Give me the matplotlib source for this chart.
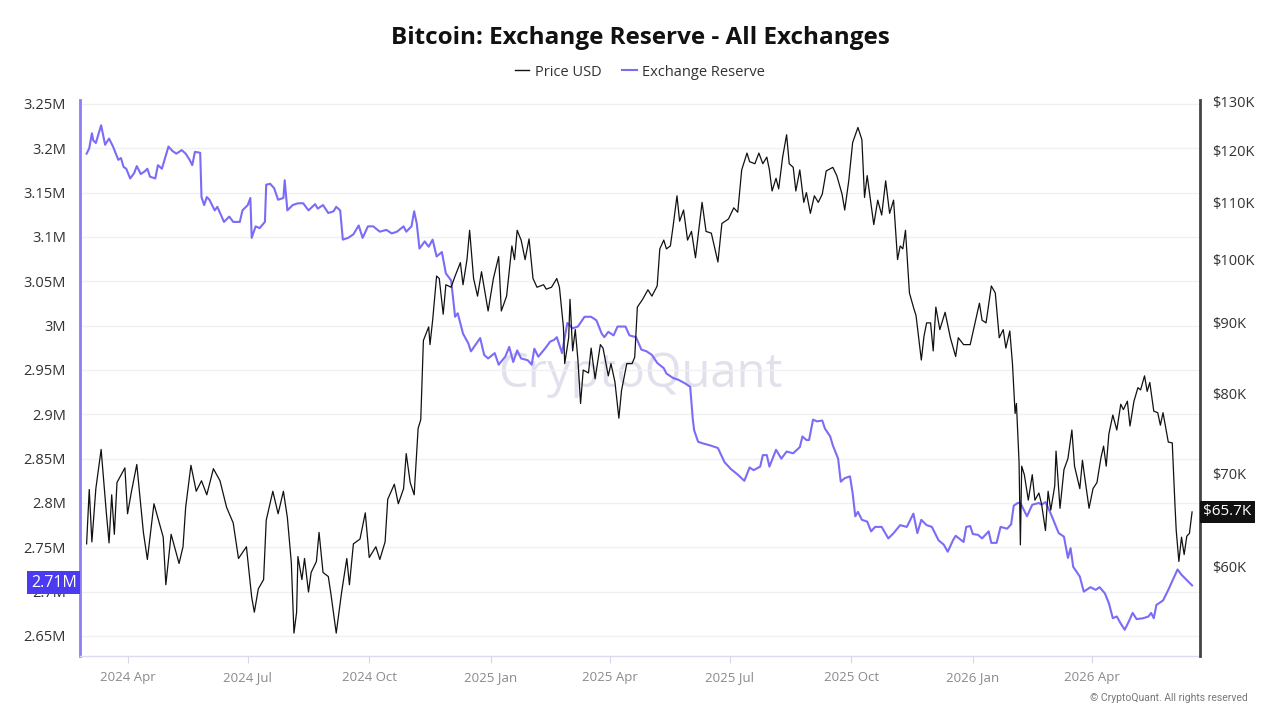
import matplotlib
matplotlib.use("Agg")
import matplotlib.pyplot as plt
import matplotlib.dates as mdates
import matplotlib.transforms as mtransforms
from matplotlib.ticker import FixedLocator, FuncFormatter, NullLocator
from matplotlib.lines import Line2D
import pandas as pd

plt.rcParams['font.family'] = ['Open Sans', 'DejaVu Sans']

START = "2024-03-01"

# Price USD (thousands of USD), sampled by day offset from START
price_days = [0, 2, 4, 7, 11, 15, 17, 19, 21, 23, 29, 31, 34, 38, 43, 46, 51, 58, 60, 64,
              70, 73, 75, 79, 83, 87, 91, 96, 101, 106, 111, 115, 121, 125, 127, 130, 134, 136, 141, 145,
              149, 152, 155, 157, 159, 160, 163, 165, 168, 170, 174, 176, 179, 183, 185, 189, 193, 197, 199, 202,
              207, 211, 214, 219, 222, 226, 228, 233, 236, 240, 242, 245, 248, 251, 253, 255, 259, 260, 262, 265,
              267, 270, 272, 276, 279, 283, 285, 288, 290, 293, 296, 299, 304, 308, 312, 314, 318, 322, 324, 326,
              329, 332, 335, 338, 341, 346, 348, 352, 356, 358, 361, 362, 365, 366, 368, 370, 372, 374, 376, 380,
              382, 385, 389, 391, 395, 397, 400, 402, 403, 405, 409, 413, 415, 417, 421, 425, 428, 432, 434, 437,
              439, 442, 444, 447, 449, 452, 455, 458, 461, 466, 469, 473, 478, 481, 486, 490, 493, 496, 500, 502,
              506, 509, 512, 515, 517, 519, 522, 524, 527, 530, 532, 535, 537, 540, 543, 545, 548, 551, 554, 557,
              560, 565, 568, 572, 574, 577, 580, 584, 587, 589, 591, 596, 599, 602, 605, 608, 611, 614, 616, 618,
              620, 623, 626, 628, 632, 634, 636, 639, 641, 643, 646, 650, 654, 658, 660, 664, 669, 676, 678, 681,
              685, 688, 691, 694, 696, 699, 701, 703, 704, 706, 707, 708, 710, 713, 716, 718, 721, 723, 726, 728,
              730, 733, 734, 737, 740, 743, 746, 748, 752, 754, 755, 759, 762, 765, 768, 770, 772, 774, 777, 780,
              783, 785, 788, 790, 793, 796, 798, 801, 803, 805, 808, 811, 813, 815, 819, 822, 824, 825, 827, 829,
              831, 833, 835, 837]
price_k = [62.3, 68.2, 62.5, 68.3, 72.9, 65.5, 62.4, 67.6, 63.3, 69.0, 70.7, 65.5, 68.0, 71.1, 63.5, 60.7, 66.6, 63.0, 58.2, 63.3,
           60.3, 62.0, 66.2, 71.0, 68.0, 69.2, 67.6, 70.6, 69.2, 66.2, 64.5, 60.8, 62.0, 57.0, 55.6, 57.8, 58.7, 64.8, 68.0, 65.5,
           68.0, 65.1, 60.4, 53.7, 55.6, 61.0, 58.7, 60.8, 57.5, 59.4, 60.5, 63.5, 59.4, 59.0, 57.3, 53.7, 57.4, 60.8, 58.2, 62.3,
           62.8, 65.6, 60.9, 62.0, 60.7, 62.5, 67.1, 68.8, 66.6, 68.3, 72.4, 69.0, 67.6, 75.5, 76.6, 87.4, 89.4, 86.8, 90.4, 97.3,
           96.9, 91.3, 95.9, 95.5, 97.3, 99.5, 95.9, 100.0, 105.0, 96.9, 94.1, 98.0, 91.8, 96.9, 100.5, 91.8, 94.1, 102.3, 100.0, 105.0,
           103.3, 100.0, 103.5, 96.9, 95.5, 95.9, 95.2, 95.5, 96.9, 95.5, 89.4, 84.1, 87.8, 93.6, 85.9, 89.0, 84.6, 78.7, 83.2, 82.8,
           86.3, 82.0, 86.8, 86.3, 82.4, 84.1, 81.6, 78.3, 76.8, 80.4, 84.1, 84.1, 85.0, 92.4, 93.6, 95.1, 94.1, 95.7, 101.8, 103.3,
           101.8, 102.3, 105.6, 111.2, 106.6, 108.6, 103.3, 104.8, 100.3, 110.0, 104.8, 104.5, 99.6, 106.2, 107.0, 109.0, 108.2, 116.1, 119.4, 117.7,
           117.3, 119.4, 117.3, 118.6, 116.1, 112.1, 114.5, 112.5, 118.6, 123.1, 117.3, 116.6, 112.1, 116.1, 110.0, 111.8, 108.0, 111.2, 110.0, 111.5,
           115.9, 116.6, 115.0, 111.5, 108.6, 113.9, 121.5, 124.6, 122.1, 110.9, 115.0, 106.0, 110.4, 107.7, 114.0, 108.0, 110.4, 100.0, 102.3, 101.8,
           105.0, 94.6, 92.4, 91.1, 84.6, 88.0, 90.0, 90.0, 85.9, 92.4, 89.0, 91.6, 87.8, 85.1, 87.8, 86.8, 86.8, 93.0, 90.4, 90.0,
           95.7, 94.6, 87.8, 89.0, 86.3, 88.8, 84.1, 77.4, 78.7, 71.4, 62.2, 70.9, 69.9, 67.0, 69.9, 67.0, 67.8, 66.6, 63.7, 68.0,
           65.9, 68.6, 72.7, 66.1, 70.5, 71.8, 75.3, 70.9, 68.3, 71.6, 70.4, 66.1, 68.3, 69.0, 71.9, 73.3, 70.9, 74.8, 77.2, 75.3,
           78.6, 77.9, 79.0, 75.8, 79.0, 80.8, 80.5, 82.4, 80.3, 81.5, 77.7, 77.5, 75.9, 77.5, 73.8, 73.7, 66.6, 63.7, 60.5, 63.0,
           61.2, 63.1, 63.4, 65.7]

# Exchange Reserve (millions of BTC), sampled by day offset from START
reserve_days = [0, 2, 4, 5, 7, 11, 14, 17, 20, 24, 26, 28, 30, 33, 36, 38, 41, 44, 46, 48,
                52, 54, 57, 60, 62, 65, 68, 72, 75, 78, 80, 82, 86, 87, 89, 91, 93, 97, 99, 104,
                108, 111, 116, 118, 122, 124, 125, 128, 131, 135, 136, 139, 142, 145, 149, 150, 152, 156, 160, 164,
                168, 173, 175, 179, 183, 187, 189, 192, 194, 198, 202, 206, 209, 213, 217, 222, 227, 231, 235, 240,
                242, 246, 248, 250, 252, 256, 259, 262, 265, 269, 272, 276, 279, 281, 285, 289, 291, 298, 301, 304,
                309, 312, 317, 320, 323, 326, 329, 334, 337, 339, 342, 347, 351, 354, 356, 360, 362, 364, 368, 372,
                377, 382, 386, 390, 392, 395, 399, 402, 408, 411, 416, 420, 424, 428, 432, 437, 439, 444, 448, 453,
                457, 459, 460, 463, 467, 472, 478, 483, 488, 493, 498, 502, 505, 510, 512, 515, 517, 522, 526, 530,
                535, 540, 542, 545, 547, 550, 553, 557, 559, 563, 565, 569, 571, 574, 578, 580, 582, 584, 587, 591,
                594, 597, 602, 607, 611, 616, 621, 626, 629, 632, 636, 640, 645, 649, 652, 656, 658, 664, 666, 669,
                671, 675, 678, 683, 685, 689, 692, 697, 700, 702, 705, 707, 712, 716, 721, 723, 726, 730, 736, 740,
                743, 745, 747, 752, 755, 760, 764, 767, 771, 774, 777, 780, 783, 786, 789, 792, 795, 800, 804, 806,
                808, 810, 815, 819, 823, 826, 829, 833, 837]
reserve_m = [3.194, 3.200, 3.217, 3.209, 3.206, 3.226, 3.204, 3.211, 3.202, 3.187, 3.189, 3.179, 3.177, 3.166, 3.172, 3.180, 3.171, 3.174, 3.177, 3.168,
             3.166, 3.181, 3.177, 3.192, 3.202, 3.197, 3.194, 3.198, 3.194, 3.187, 3.181, 3.196, 3.195, 3.145, 3.136, 3.145, 3.142, 3.130, 3.134, 3.117,
             3.123, 3.117, 3.117, 3.130, 3.136, 3.144, 3.099, 3.112, 3.110, 3.117, 3.159, 3.160, 3.155, 3.142, 3.144, 3.164, 3.130, 3.136, 3.138, 3.138,
             3.130, 3.137, 3.132, 3.136, 3.127, 3.129, 3.134, 3.130, 3.097, 3.099, 3.103, 3.113, 3.099, 3.112, 3.112, 3.106, 3.108, 3.104, 3.106, 3.112,
             3.106, 3.112, 3.129, 3.115, 3.087, 3.095, 3.089, 3.097, 3.078, 3.083, 3.059, 3.051, 3.010, 3.014, 2.991, 2.980, 2.971, 2.986, 2.967, 2.963,
             2.969, 2.956, 2.965, 2.976, 2.959, 2.972, 2.963, 2.961, 2.956, 2.974, 2.965, 2.974, 2.982, 2.984, 2.987, 2.969, 2.987, 3.003, 2.997, 2.999,
             3.010, 3.010, 3.006, 2.991, 2.987, 2.993, 2.989, 2.999, 2.999, 2.989, 2.987, 2.973, 2.971, 2.967, 2.958, 2.952, 2.946, 2.941, 2.939, 2.935,
             2.931, 2.894, 2.882, 2.869, 2.867, 2.865, 2.862, 2.846, 2.838, 2.832, 2.825, 2.840, 2.837, 2.841, 2.854, 2.854, 2.841, 2.860, 2.850, 2.858,
             2.856, 2.863, 2.875, 2.871, 2.871, 2.894, 2.892, 2.893, 2.884, 2.875, 2.865, 2.850, 2.824, 2.828, 2.830, 2.811, 2.785, 2.790, 2.781, 2.779,
             2.768, 2.773, 2.773, 2.760, 2.766, 2.775, 2.773, 2.788, 2.766, 2.781, 2.775, 2.773, 2.758, 2.753, 2.745, 2.758, 2.763, 2.756, 2.773, 2.774,
             2.765, 2.764, 2.760, 2.768, 2.755, 2.755, 2.773, 2.771, 2.776, 2.797, 2.800, 2.800, 2.785, 2.798, 2.800, 2.798, 2.801, 2.788, 2.766, 2.762,
             2.738, 2.749, 2.728, 2.717, 2.700, 2.705, 2.702, 2.705, 2.698, 2.687, 2.670, 2.672, 2.664, 2.657, 2.666, 2.676, 2.669, 2.670, 2.672, 2.676,
             2.670, 2.685, 2.690, 2.702, 2.715, 2.725, 2.719, 2.713, 2.707]

left_ticks = [2.65, 2.7, 2.75, 2.8, 2.85, 2.9, 2.95, 3.0, 3.05, 3.1, 3.15, 3.2, 3.25]
right_ticks = [60, 70, 80, 90, 100, 110, 120, 130]
x_ticks = ["2024-04-01", "2024-07-01", "2024-10-01", "2025-01-01", "2025-04-01",
           "2025-07-01", "2025-10-01", "2026-01-01", "2026-04-01"]

last_reserve_label = "2.71M"
last_price_label = "$65.7K"

start = pd.Timestamp(START)
price_dates = start + pd.to_timedelta(price_days, unit="D")
reserve_dates = start + pd.to_timedelta(reserve_days, unit="D")

PURPLE = "#7b6cf6"
fig = plt.figure(figsize=(12.8, 7.2), dpi=100)
ax = fig.add_axes([80 / 1280, 64 / 720, 1120 / 1280, 556 / 720])
ax2 = ax.twinx()

ax.set_zorder(1)
ax2.set_zorder(2)
ax.patch.set_visible(False)
ax2.patch.set_visible(False)

ax.plot(reserve_dates, reserve_m, color=PURPLE, lw=1.5, zorder=3)
ax2.plot(price_dates, price_k, color="#111111", lw=0.9, zorder=3)

# axes limits
ax.set_xlim(start - pd.Timedelta(days=5), start + pd.Timedelta(days=843))
ax.set_ylim(2.6274, 3.2545)
ax2.set_yscale("log")
ax2.set_ylim(51.69, 130.43)

# left axis
ax.yaxis.set_major_locator(FixedLocator(left_ticks))
ax.yaxis.set_major_formatter(FuncFormatter(lambda v, p: f"{v:g}M"))
ax.tick_params(axis="y", length=0, labelsize=10.5, labelcolor="#333333", pad=10)
ax.grid(axis="y", color="#f0f0f3", lw=1)
ax.set_axisbelow(True)

# right axis
ax2.yaxis.set_major_locator(FixedLocator(right_ticks))
ax2.yaxis.set_minor_locator(NullLocator())
ax2.yaxis.set_major_formatter(FuncFormatter(lambda v, p: f"${v:g}K"))
ax2.tick_params(axis="y", which="both", length=0, labelsize=10.5, labelcolor="#333333", pad=9)

# x axis
ax.xaxis.set_major_locator(FixedLocator(mdates.date2num(pd.to_datetime(x_ticks))))
ax.xaxis.set_major_formatter(mdates.DateFormatter("%Y %b"))
ax.tick_params(axis="x", length=5, color="#d8d6e8", labelsize=9.5, labelcolor="#8a8a8a", pad=6)

for a in (ax, ax2):
    for s in ("top", "bottom", "left", "right"):
        a.spines[s].set_visible(False)
ax.spines["left"].set_visible(True)
ax.spines["left"].set_color("#8b7ef7")
ax.spines["left"].set_linewidth(2)
ax.spines["bottom"].set_visible(True)
ax.spines["bottom"].set_color("#dcdaf0")
ax.spines["bottom"].set_linewidth(1)
ax2.spines["right"].set_visible(True)
ax2.spines["right"].set_color("#444444")
ax2.spines["right"].set_linewidth(2)

# last value labels
trL = mtransforms.blended_transform_factory(ax.transAxes, ax.transData)
ax.text(-0.003, reserve_m[-1] + 0.003, last_reserve_label, transform=trL, ha="right", va="center",
        fontsize=11.5, color="white", zorder=20, clip_on=False,
        bbox=dict(boxstyle="square,pad=0.22", fc="#4b3aef", ec="none"))
trR = mtransforms.blended_transform_factory(ax2.transAxes, ax2.transData)
ax2.text(1.003, price_k[-1], last_price_label, transform=trR, ha="left", va="center",
         fontsize=11, color="white", zorder=20, clip_on=False,
         bbox=dict(boxstyle="square,pad=0.25", fc="#111111", ec="none"))

# watermark
fig.text(0.5, 0.48, "CryptoQuant", ha="center", va="center", fontsize=34,
         color="#e2e0ec", zorder=0, family=["Open Sans", "DejaVu Sans"])

# title & legend
fig.text(0.5, 0.947, "Bitcoin: Exchange Reserve - All Exchanges", ha="center", va="center",
         fontsize=17.5, fontweight="bold", color="#111111")
handles = [Line2D([], [], color="#111111", lw=1), Line2D([], [], color=PURPLE, lw=1.5)]
fig.legend(handles, ["Price USD", "Exchange Reserve"], loc="center", bbox_to_anchor=(0.5, 0.9),
           ncol=2, frameon=False, fontsize=10.5, handlelength=1.0, handletextpad=0.4,
           columnspacing=1.4, labelcolor="#333333")

fig.text(0.975, 0.03, "© CryptoQuant. All rights reserved", ha="right", va="center",
         fontsize=7.5, color="#777777", family=["Roboto", "DejaVu Sans"])

fig.savefig("out.png", dpi=100)
